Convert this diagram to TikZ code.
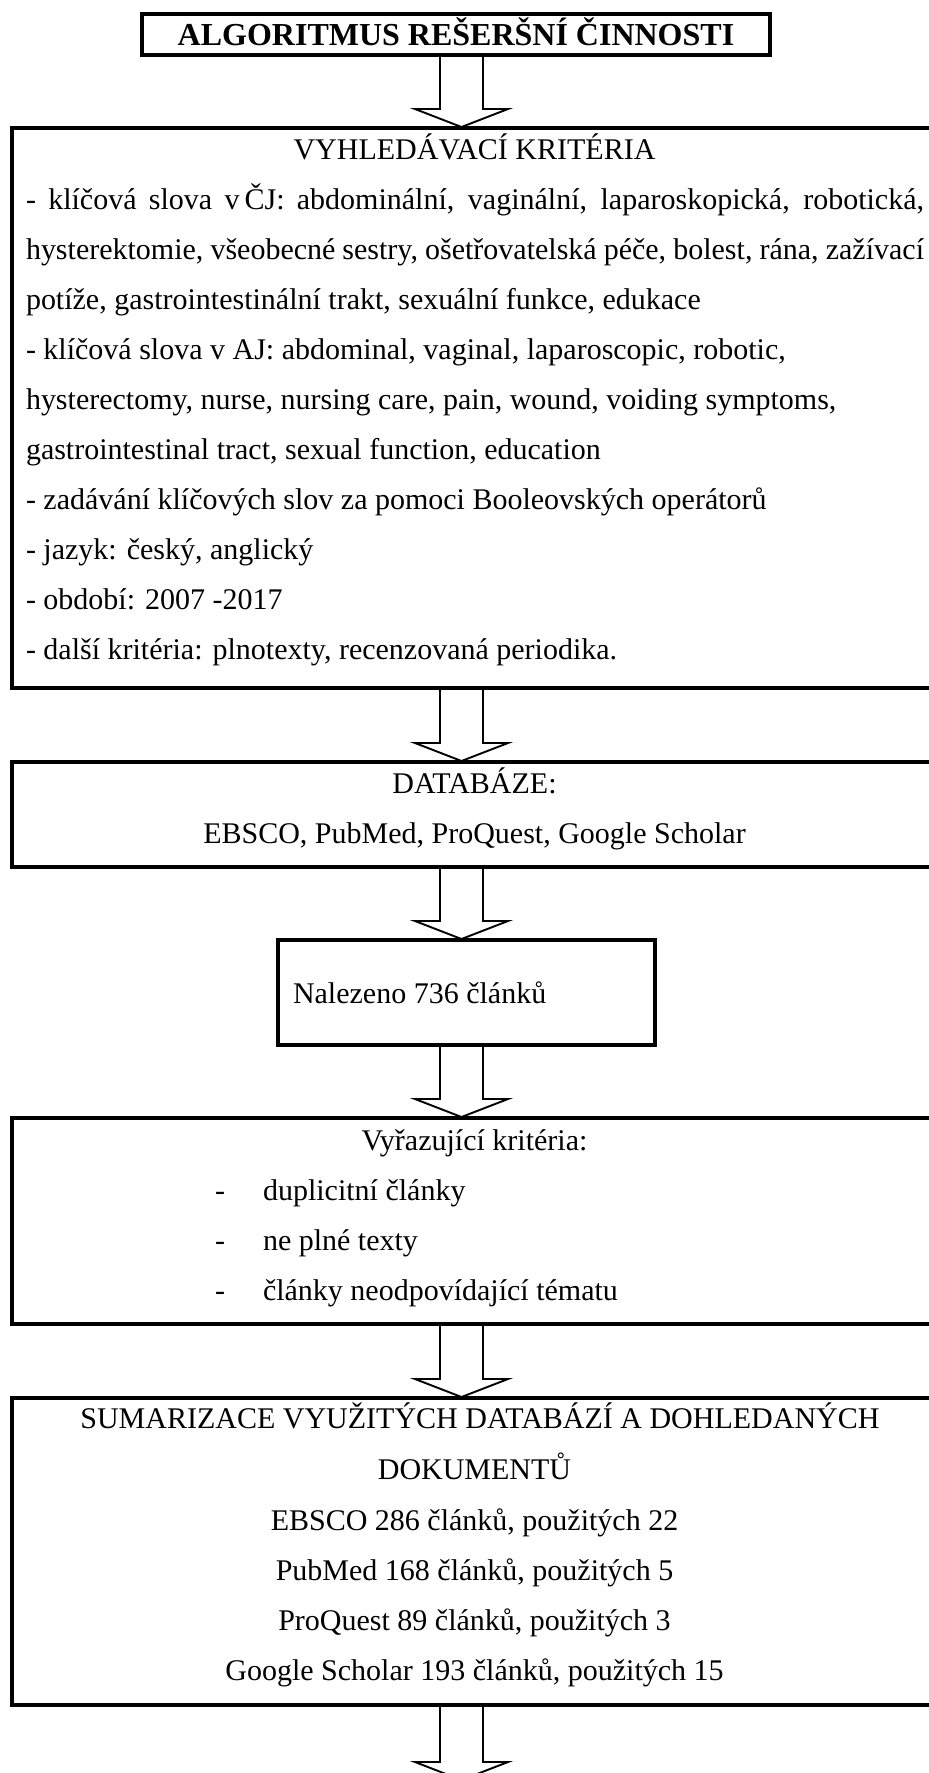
\documentclass[tikz,border=0pt]{standalone}
\usepackage{fontspec}
\setmainfont{Liberation Serif}
\usetikzlibrary{calc}
\tikzset{
  box/.style={draw=black, line width=4pt, rectangle, inner sep=0pt, outer sep=0pt, anchor=north west},
  txt/.style={inner sep=0pt, outer sep=0pt, font=\fontsize{30}{50}\selectfont, anchor=base west},
  ctxt/.style={txt, anchor=base},
  barrow/.style={draw=black, line width=1.9pt, fill=white, line join=miter},
}
\newcommand\blockarr[2]{%
  \draw[barrow] let \p1=(#1 -| ax), \p2=(#2 -| ax) in
    (\x1-21.5pt,\y1-2pt) -- (\x1-21.5pt,\y2+19pt) -- (\x1-46.5pt,\y2+19pt) -- (\x2,\y2+1pt)
    -- (\x1+46.5pt,\y2+19pt) -- (\x1+21.5pt,\y2+19pt) -- (\x1+21.5pt,\y1-2pt);
}
\begin{document}
\begin{tikzpicture}[x=1pt,y=-1pt]
\useasboundingbox (0,0) rectangle (929,1773);
\clip (0,0) rectangle (929,1773);
\fill[white] (0,0) rectangle (929,1773);
\coordinate (ax) at (461.5,0);

% boxes
\node[box, line width=3.5pt, minimum width=628pt, minimum height=41pt] (title) at (142,14) {};
\node[box, minimum width=925pt, minimum height=560pt] (crit) at (12,128) {};
\node[box, minimum width=925pt, minimum height=105pt] (db) at (12,762) {};
\node[box, minimum width=377pt, minimum height=105pt] (found) at (278,940) {};
\node[box, minimum width=925pt, minimum height=206pt] (excl) at (12,1118) {};
\node[box, minimum width=925pt, minimum height=307pt] (sum) at (12,1398) {};
\coordinate (end) at (461.5,1781);

% title
\node[ctxt, font=\fontsize{32}{50}\selectfont\bfseries] (tt) at (456,45) {ALGORITMUS REŠERŠNÍ ČINNOSTI};

% criteria
\node[ctxt] (c0) at (474.5,159) {VYHLEDÁVACÍ KRITÉRIA};
\node[txt] (c1) at (26,209) {\makebox[898pt][s]{- klíčová slova v\kern5pt ČJ: abdominální, vaginální, laparoskopická, robotická,}};
\node[txt] (c2) at (26,259) {\makebox[898pt][s]{hysterektomie, všeobecné sestry, ošetřovatelská péče, bolest, rána, zažívací}};
\node[txt] (c3) at (26,309) {potíže, gastrointestinální trakt, sexuální funkce, edukace};
\node[txt] (c4) at (26,359) {- klíčová slova v AJ: abdominal, vaginal, laparoscopic, robotic,};
\node[txt] (c5) at (26,409) {hysterectomy, nurse, nursing care, pain, wound, voiding symptoms,};
\node[txt] (c6) at (26,459) {gastrointestinal tract, sexual function, education};
\node[txt] (c7) at (26,509) {- zadávání klíčových slov za pomoci Booleovských operátorů};
\node[txt] (c8) at (26,559) {- jazyk: český, anglický};
\node[txt] (c9) at (26,609) {- období: 2007 -2017};
\node[txt] (c10) at (26,659) {- další kritéria: plnotexty, recenzovaná periodika.};

% databases
\node[ctxt] (d0) at (474.5,793) {DATABÁZE:};
\node[ctxt] (d1) at (474.5,843) {EBSCO, PubMed, ProQuest, Google Scholar};

% found
\node[txt] (f0) at (293,1003) {Nalezeno 736 článků};

% exclusion
\node[ctxt] (e0) at (474.5,1150) {Vyřazující kritéria:};
\node[txt] (e1d) at (215,1200) {-};
\node[txt] (e1) at (263,1200) {duplicitní články};
\node[txt] (e2d) at (215,1250) {-};
\node[txt] (e2) at (263,1250) {ne plné texty};
\node[txt] (e3d) at (215,1300) {-};
\node[txt] (e3) at (263,1300) {články neodpovídající tématu};

% summary
\node[ctxt] (s0) at (480,1428) {SUMARIZACE VYUŽITÝCH DATABÁZÍ A DOHLEDANÝCH};
\node[ctxt] (s1) at (474.5,1479) {DOKUMENTŮ};
\node[ctxt] (s2) at (474.5,1530) {EBSCO 286 článků, použitých 22};
\node[ctxt] (s3) at (474.5,1580) {PubMed 168 článků, použitých 5};
\node[ctxt] (s4) at (474.5,1630) {ProQuest 89 článků, použitých 3};
\node[ctxt] (s5) at (474.5,1680) {Google Scholar 193 článků, použitých 15};

% arrows
\blockarr{title.south}{crit.north}
\blockarr{crit.south}{db.north}
\blockarr{db.south}{found.north}
\blockarr{found.south}{excl.north}
\blockarr{excl.south}{sum.north}
\blockarr{sum.south}{end}
\end{tikzpicture}
\end{document}
